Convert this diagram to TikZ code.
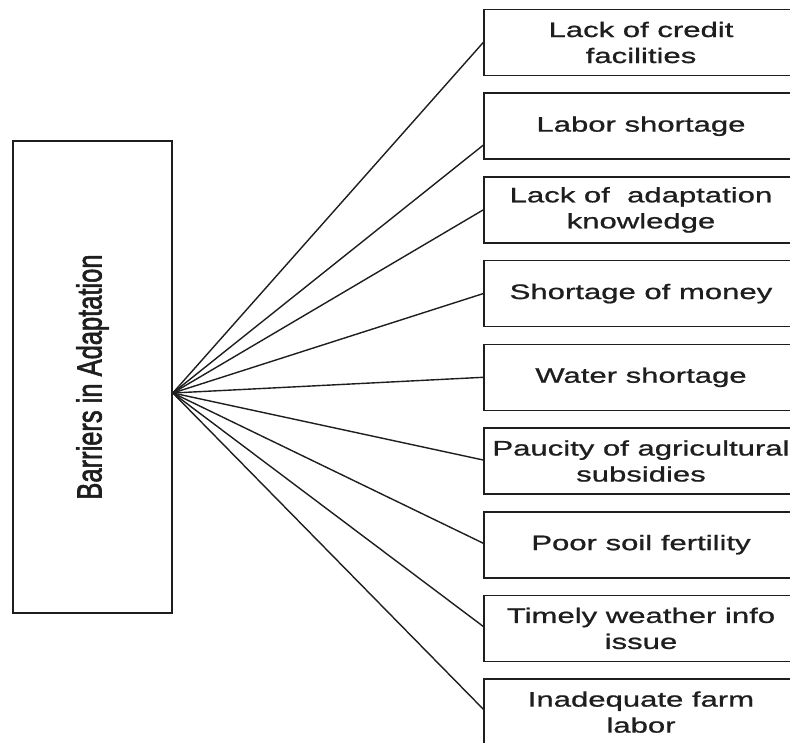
\documentclass[tikz,border=0pt]{standalone}
\usepackage{fontspec}
\setmainfont{Liberation Sans}
\newfontfamily\widefont{Liberation Sans}[FakeStretch=1.48,FakeBold=0.9]
\newfontfamily\titlefont{Liberation Sans}[FakeBold=2]
\definecolor{ink}{HTML}{1E1E1E}
\begin{document}
\begin{tikzpicture}[x=1pt,y=-1pt,
  itembox/.style={draw=ink, line width=1.6pt, minimum width=314pt,
    minimum height=66pt, inner sep=0pt, align=center, text=ink,
    font=\widefont\fontsize{21}{26}\selectfont},
  mainbox/.style={draw=ink, line width=1.6pt, minimum width=159pt,
    minimum height=472pt, inner sep=0pt, text=ink},
  link/.style={draw=ink, line width=1.4pt}]
\clip (0,0) rectangle (790,742);
\fill[white] (0,0) rectangle (790,742);

% central box with vertical title
\node[mainbox] (L) at (92.5,377)
  {\rotatebox{90}{\scalebox{1}[1.37]{\titlefont\fontsize{25.5}{30}\selectfont Barriers in Adaptation}}};
\coordinate (hub) at ([yshift=-16pt]L.east);

% barrier boxes
\node[itembox] (b1) at (641,42.5)  {Lack of credit\\facilities};
\node[itembox] (b2) at (641,126.2) {Labor shortage};
\node[itembox] (b3) at (641,209.9) {Lack of\ \ adaptation\\knowledge};
\node[itembox] (b4) at (641,293.6) {Shortage of money};
\node[itembox] (b5) at (641,377.3) {Water shortage};
\node[itembox] (b6) at (641,461)   {Paucity of agricultural\\subsidies};
\node[itembox] (b7) at (641,544.7) {Poor soil fertility};
\node[itembox] (b8) at (641,628.4) {Timely weather info\\issue};
\node[itembox] (b9) at (641,712.1) {Inadequate farm\\labor};

% connectors
\draw[link] (hub) -- (b1.west);
\draw[link] (hub) -- ([yshift=-19pt]b2.west);
\draw[link] (hub) -- (b3.west);
\draw[link] (hub) -- (b4.west);
\draw[link] (hub) -- (b5.west);
\draw[link] (hub) -- ([yshift=1pt]b6.west);
\draw[link] (hub) -- ([yshift=1.5pt]b7.west);
\draw[link] (hub) -- ([yshift=2pt]b8.west);
\draw[link] (hub) -- ([yshift=3pt]b9.west);
\end{tikzpicture}
\end{document}
